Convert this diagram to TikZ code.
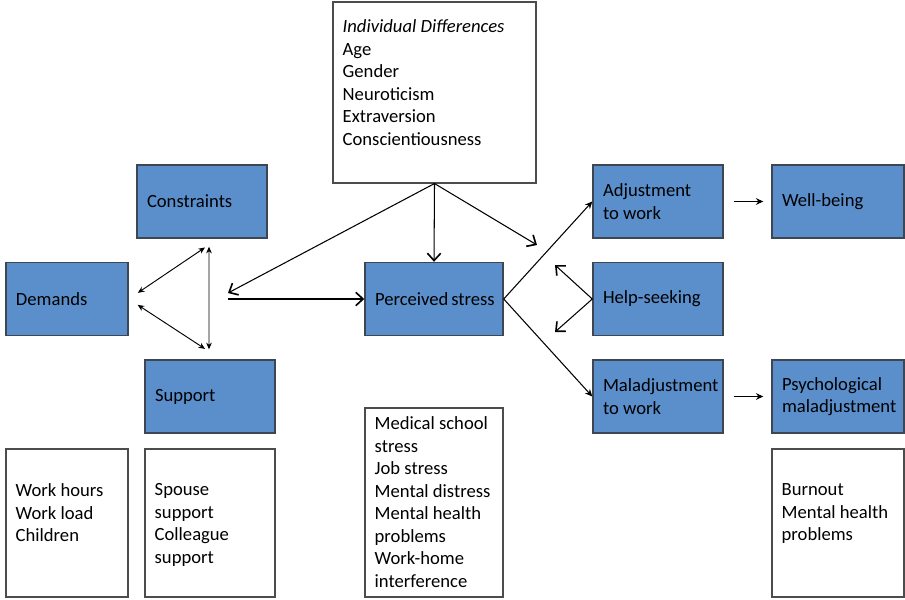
\documentclass[tikz,border=0pt]{standalone}
\usepackage{fontspec}
\setmainfont{Carlito}
\usetikzlibrary{arrows.meta}

\definecolor{boxblue}{RGB}{91,143,204}
\definecolor{boxedge}{RGB}{62,70,82}

\begin{document}
\begin{tikzpicture}[
        x=0.03cm, y=-0.03cm,
        every node/.style={font=\fontsize{15.9}{19.2}\selectfont},
        box/.style={rectangle, draw=boxedge, fill=boxblue, line width=1.2pt, minimum height=2.19cm, inner xsep=0.3cm, align=flush left},
        listbox/.style={rectangle, draw=black!70, line width=0.9pt},
        listtext/.style={anchor=north west, align=flush left, inner xsep=0.3cm},
        arrow/.style={-{Stealth[length=0.22cm, width=0.2cm]}, line width=0.9pt},
        both/.style={{Stealth[length=0.2cm, width=0.17cm]}-{Stealth[length=0.2cm, width=0.17cm]}, line width=0.8pt},
        open/.style={-{Straight Barb[length=0.22cm, width=0.4cm, line width=1.4pt]}, line width=0.9pt}
    ]
        \useasboundingbox (0,0) rectangle (905,600);

        % Individual differences
        \node[listbox, minimum width=6.09cm, minimum height=5.43cm, label={[listtext, inner ysep=0.54cm]north west:\textit{Individual Differences}\\Age\\Gender\\Neuroticism\\Extraversion\\Conscientiousness}] (indiv) at (434.5,92.5) {};

        % Stressor nodes
        \node[box, text width=3.3cm] (constraints) at (202,201.5) {Constraints};
        \node[box, text width=3.06cm] (demands) at (67,299) {Demands};
        \node[box, text width=3.3cm] (support) at (210,396.5) {Support};
        \node[box, text width=3.54cm] (stress) at (434,299) {Perceived~stress};

        % Outcome nodes
        \node[box, text width=3.3cm] (adjust) at (658,201.5) {Adjustment\\to work};
        \node[box, text width=3.36cm] (wellbeing) at (838,201.5) {Well-being};
        \node[box, text width=3.3cm] (help) at (658,299) {Help-seeking};
        \node[box, text width=3.3cm] (maladjust) at (658,396.5) {Maladjustment\\to work};
        \node[box, text width=3.36cm] (psych) at (838,396.5) {Psychological\\maladjustment};

        % Measure boxes
        \node[listbox, minimum width=3.66cm, minimum height=4.44cm, label={[listtext, inner ysep=1.05cm]north west:Work hours\\Work load\\Children}] (hours) at (67,523) {};
        \node[listbox, minimum width=3.9cm, minimum height=4.44cm, label={[listtext, inner ysep=1.05cm]north west:Spouse\\support\\Colleague\\support}] (spouse) at (210,523) {};
        \node[listbox, minimum width=4.14cm, minimum height=5.67cm, label={[listtext, inner ysep=0.27cm]north west:Medical school\\stress\\Job stress\\Mental distress\\Mental health\\problems\\Work-home\\interference}] (measures) at (434,502.5) {};
        \node[listbox, minimum width=3.96cm, minimum height=4.44cm, label={[listtext, inner ysep=1.05cm]north west:Burnout\\Mental health\\problems}] (burnout) at (838,523) {};

        % Free ends
        \coordinate (idleft) at (228,293);
        \coordinate (hub) at (228,299);
        \coordinate (idright) at (537,245);
        \coordinate (helpup) at (555,265);
        \coordinate (helpdown) at (555,332);

        % Stressor arrows
        \draw[both, shorten <=0.33cm, shorten >=0.47cm] (demands.east) -- ([xshift=0.48cm]constraints.south);
        \draw[both, shorten <=0.32cm, shorten >=0.57cm] (demands.east) -- ([xshift=0.33cm]support.north);
        \draw[both, shorten <=0.24cm, shorten >=0.3cm] ([xshift=0.21cm]constraints.south) -- ([xshift=-0.03cm]support.north);
        \draw[open] (hub) -- (stress.west);

        % Individual differences arrows
        \draw[open] (indiv.south) -- (idleft);
        \draw[open] (indiv.south) -- (stress.north);
        \draw[open] (indiv.south) -- (idright);

        % Outcome arrows
        \draw[arrow] (stress.east) -- (adjust.west);
        \draw[arrow] (stress.east) -- (maladjust.west);
        \draw[open] (help.west) -- (helpup);
        \draw[open] (help.west) -- (helpdown);
        \draw[arrow, shorten <=0.3cm, shorten >=0.24cm] (adjust.east) -- (wellbeing.west);
        \draw[arrow, shorten <=0.3cm, shorten >=0.24cm] (maladjust.east) -- (psych.west);
    \end{tikzpicture}
\end{document}
